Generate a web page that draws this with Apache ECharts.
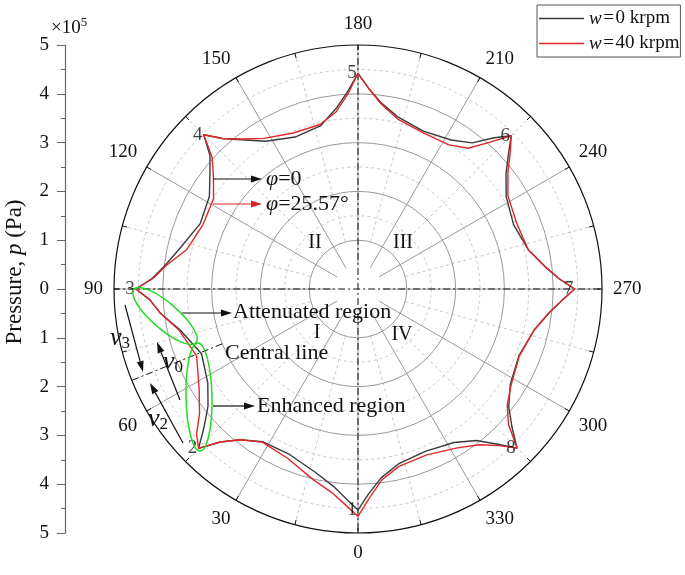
<!DOCTYPE html>
<html>
<head>
<meta charset="utf-8">
<script src="https://cdn.jsdelivr.net/npm/echarts@6/dist/echarts.min.js"></script>
<style>
  html, body { margin: 0; padding: 0; background: #fff; }
  #chart { width: 685px; height: 575px; }
</style>
</head>
<body>
<div id="chart"></div>
<script>
// angle (deg) at which the pressure curves were read, 0 = bottom, clockwise
const angles = [
  0, 3, 7, 13, 22.5, 32, 38, 42,
  45, 48, 52, 58, 67.5, 77, 83, 87,
  90, 93, 97, 103, 112.5, 122, 128, 132,
  135, 138, 142, 148, 157.5, 167, 173, 177,
  180, 183, 187, 193, 202.5, 212, 218, 222,
  225, 228, 232, 238, 247.5, 257, 263, 267,
  270, 273, 277, 283, 292.5, 302, 308, 312,
  315, 318, 322, 328, 337.5, 347, 353, 357,
  360
];
// pressure, x1e5 Pa
const pressure0 = [
  4.53, 4.32, 4.08, 3.86, 3.67, 3.69, 3.92, 4.22,
  4.62, 4.25, 3.90, 3.63, 3.47, 3.74, 4.08, 4.27,
  4.55, 4.22, 3.98, 3.74, 3.50, 3.59, 3.85, 4.08,
  4.47, 4.15, 3.88, 3.57, 3.37, 3.43, 3.72, 4.05,
  4.42, 4.12, 3.85, 3.62, 3.50, 3.60, 3.80, 4.17,
  4.44, 4.15, 3.85, 3.58, 3.45, 3.58, 3.85, 4.12,
  4.44, 4.20, 3.95, 3.71, 3.57, 3.68, 3.92, 4.25,
  4.61, 4.28, 3.94, 3.71, 3.60, 3.68, 3.90, 4.20,
  4.53
];
const pressure40 = [
  4.66, 4.45, 4.22, 4.02, 3.76, 3.70, 3.92, 4.22,
  4.62, 4.45, 4.12, 3.84, 3.58, 3.76, 4.08, 4.27,
  4.55, 4.20, 3.96, 3.60, 3.44, 3.49, 3.76, 4.02,
  4.47, 4.15, 3.90, 3.64, 3.46, 3.46, 3.66, 4.00,
  4.42, 4.12, 3.83, 3.58, 3.47, 3.49, 3.66, 4.05,
  4.44, 4.20, 3.90, 3.62, 3.52, 3.58, 3.85, 4.12,
  4.44, 4.20, 3.95, 3.71, 3.58, 3.70, 3.88, 4.15,
  4.61, 4.32, 4.05, 3.84, 3.68, 3.73, 3.95, 4.30,
  4.66
];
const tipAngles = [0, 45, 90, 135, 180, 225, 270, 315];
const tipPressure = [4.53, 4.62, 4.55, 4.47, 4.42, 4.44, 4.44, 4.61];
const tipNames = ['1', '2', '3', '4', '5', '6', '7', '8'];
const seriesNames = ['w=0 krpm', 'w=40 krpm'];

const FONT = 'Liberation Serif';
const CX = 358, CY = 289, R = 244;
const dashDot = [7, 3, 2, 3];
const DASH_GREY = '#c8c8c8';
const NONE = 'rgba(0,0,0,0)';

const chart = echarts.init(document.getElementById('chart'));

function arrow(x1, y1, x2, y2, color) {
  const a = Math.atan2(y2 - y1, x2 - x1), L = 11, W = 3.5;
  const bx = x2 - L * Math.cos(a), by = y2 - L * Math.sin(a);
  return [
    { type: 'line', z: 100, shape: { x1: x1, y1: y1, x2: bx, y2: by }, style: { stroke: color, lineWidth: 1.2 } },
    { type: 'polygon', z: 100, shape: { points: [[x2, y2], [bx - W * Math.sin(a), by + W * Math.cos(a)], [bx + W * Math.sin(a), by - W * Math.cos(a)]] }, style: { fill: color } }
  ];
}

function label(x, y, text, size, align, rich) {
  return {
    type: 'text', z: 100, x: x, y: y,
    style: { text: text, font: size + 'px "' + FONT + '"', fill: '#111', textAlign: align || 'left', textVerticalAlign: 'middle', rich: rich }
  };
}

const italic = (size) => ({ fontStyle: 'italic', fontFamily: FONT, fontSize: size, fill: '#111' });
const sub = { fontFamily: FONT, fontSize: 17, fill: '#111', padding: [12, 0, 0, 0] };

const graphics = [].concat(
  arrow(213, 179, 262, 179, '#111'),
  arrow(213, 204, 262, 204, '#e02020'),
  arrow(182, 313, 232, 313, '#111'),
  arrow(213, 406, 255, 406, '#111'),
  arrow(125, 305, 143, 372, '#111'),
  arrow(180, 400, 157, 342, '#111'),
  arrow(183, 443, 150, 383, '#111'),
  [
    { type: 'ellipse', z: 100, x: 165, y: 316, rotation: -40.7 * Math.PI / 180, shape: { cx: 0, cy: 0, rx: 41, ry: 13 }, style: { fill: 'none', stroke: '#22dd22', lineWidth: 1.5 } },
    { type: 'ellipse', z: 100, x: 199, y: 397, rotation: 0.02, shape: { cx: 0, cy: 0, rx: 13, ry: 54 }, style: { fill: 'none', stroke: '#22dd22', lineWidth: 1.5 } },
    label(266, 179, '{i|φ}=0', 22, 'left', { i: italic(22) }),
    label(266, 204, '{i|φ}=25.57°', 22, 'left', { i: italic(22) }),
    label(233, 312, 'Attenuated region', 22),
    label(225, 353, 'Central line', 22),
    label(257, 406, 'Enhanced region', 22),
    label(110, 338, '{i|v}{s|3}', 24, 'left', { i: italic(26), s: sub }),
    label(163, 362, '{i|v}{s|0}', 24, 'left', { i: italic(26), s: sub }),
    label(148, 419, '{i|v}{s|2}', 24, 'left', { i: italic(26), s: sub }),
    label(317, 333, 'I', 20, 'center'),
    label(315, 243, 'II', 20, 'center'),
    label(403, 243, 'III', 20, 'center'),
    label(402, 335, 'IV', 20, 'center'),
    label(51, 28, '×10{sup|5}', 19, 'left', { sup: { fontFamily: FONT, fontSize: 13, fill: '#111', padding: [0, 0, 10, 0] } }),
    {
      type: 'text', z: 100, x: 15, y: 272, rotation: Math.PI / 2,
      style: { text: 'Pressure, {i|p} (Pa)', font: '23px "' + FONT + '"', fill: '#111', textAlign: 'center', textVerticalAlign: 'middle', rich: { i: italic(23) } }
    }
  ]
);

const hiddenAxisParts = { axisLine: { show: false }, axisTick: { show: false }, axisLabel: { show: false } };

const option = {
  animation: false,
  backgroundColor: '#fff',
  textStyle: { fontFamily: FONT },
  legend: {
    data: seriesNames,
    orient: 'vertical',
    left: 537, top: 5,
    padding: [4, 1, 4, 2],
    itemGap: 6,
    itemWidth: 45,
    itemHeight: 1.5,
    icon: 'rect',
    borderColor: '#555',
    borderWidth: 1,
    formatter: (n) => '{i|w}\u200A=\u200A' + n.slice(2),
    textStyle: { fontFamily: FONT, fontSize: 19, color: '#111', lineHeight: 19, rich: { i: italic(19) } }
  },
  grid: { left: 65, top: 45, bottom: 42, width: 1 },
  xAxis: { type: 'value', show: false },
  yAxis: {
    type: 'value', min: -5, max: 5, interval: 1,
    axisLine: { show: true, lineStyle: { color: '#666', width: 1.2 } },
    axisTick: { show: true, length: 8, lineStyle: { color: '#666' } },
    minorTick: { show: true, splitNumber: 2, length: 4, lineStyle: { color: '#666' } },
    splitLine: { show: false },
    axisLabel: { formatter: (v) => Math.abs(v), fontFamily: FONT, fontSize: 19, color: '#111', margin: 16 }
  },
  // 0: data + solid rings, 1: solid spokes from r = 0.5, 2: dashed rings and spokes from r = 1
  polar: [
    { center: [CX, CY], radius: [0, R] },
    { center: [CX, CY], radius: [R / 10, R] },
    { center: [CX, CY], radius: [R / 5, R] }
  ],
  radiusAxis: [
    Object.assign({
      polarIndex: 0, type: 'value', min: 0, max: 5, interval: 1, z: 1,
      splitLine: { show: true, lineStyle: { color: ['#999', '#999', '#999', '#999', '#999', NONE], width: 1 } }
    }, hiddenAxisParts),
    Object.assign({
      polarIndex: 1, type: 'value', min: 0.5, max: 5,
      splitLine: { show: false }
    }, hiddenAxisParts),
    Object.assign({
      polarIndex: 2, type: 'value', min: 1, max: 5, interval: 0.5, z: 0,
      splitLine: {
        show: true,
        lineStyle: { color: [NONE, DASH_GREY, NONE, DASH_GREY, NONE, DASH_GREY, NONE, DASH_GREY, NONE], type: [3, 3], width: 1 }
      }
    }, hiddenAxisParts)
  ],
  angleAxis: [
    {
      polarIndex: 0, type: 'value', min: 0, max: 360, interval: 30, startAngle: 270, clockwise: true, z: 2,
      axisLine: { show: true, lineStyle: { color: '#111', width: 1.2 } },
      axisTick: { show: true, inside: true, length: 5, lineStyle: { color: '#111' } },
      minorTick: { show: true, splitNumber: 2, length: 5, lineStyle: { color: '#111' } },
      axisLabel: { fontFamily: FONT, fontSize: 19, color: '#111', margin: 11 },
      splitLine: { show: false }
    },
    Object.assign({
      polarIndex: 1, type: 'value', min: 0, max: 360, interval: 30, startAngle: 270, clockwise: true, z: 1,
      splitLine: { show: true, lineStyle: { color: '#999', width: 1 } }
    }, hiddenAxisParts),
    Object.assign({
      polarIndex: 2, type: 'value', min: 0, max: 360, interval: 30, startAngle: 270, clockwise: true, z: 0,
      minorTick: { show: false, splitNumber: 2 },
      splitLine: { show: false },
      minorSplitLine: { show: true, lineStyle: { color: DASH_GREY, type: [3, 3], width: 1 } }
    }, hiddenAxisParts)
  ],
  series: [
    {
      name: seriesNames[0], type: 'line', coordinateSystem: 'polar', polarIndex: 0,
      symbol: 'none', z: 4,
      lineStyle: { color: '#3a3a3a', width: 1.4 }, itemStyle: { color: '#3a3a3a' },
      data: angles.map((a, i) => [pressure0[i], a])
    },
    {
      name: seriesNames[1], type: 'line', coordinateSystem: 'polar', polarIndex: 0,
      symbol: 'none', z: 5,
      lineStyle: { color: '#e02828', width: 1.4 }, itemStyle: { color: '#e02828' },
      data: angles.map((a, i) => [pressure40[i], a])
    },
    {
      type: 'line', coordinateSystem: 'polar', polarIndex: 0, symbol: 'none', clip: false, silent: true, z: 3,
      lineStyle: { color: '#111', width: 1, type: dashDot },
      data: [[5.86, 0], [5.86, 180]]
    },
    {
      type: 'line', coordinateSystem: 'polar', polarIndex: 0, symbol: 'none', clip: false, silent: true, z: 3,
      lineStyle: { color: '#111', width: 1, type: dashDot },
      data: [[5.94, 90], [5.94, 270]]
    },
    {
      type: 'line', coordinateSystem: 'polar', polarIndex: 0, symbol: 'none', clip: false, silent: true, z: 3,
      lineStyle: { color: '#111', width: 1, type: dashDot },
      data: [[3.0, 68], [5.77, 68]]
    },
    {
      type: 'scatter', coordinateSystem: 'polar', polarIndex: 0, symbolSize: 0, silent: true, z: 6,
      label: {
        show: true, position: 'inside', offset: [-6, 0],
        formatter: (p) => tipNames[p.dataIndex],
        fontFamily: FONT, fontSize: 19, color: '#111'
      },
      data: tipAngles.map((a, i) => [tipPressure[i], a])
    }
  ],
  graphic: graphics
};

chart.setOption(option);
</script>
</body>
</html>
